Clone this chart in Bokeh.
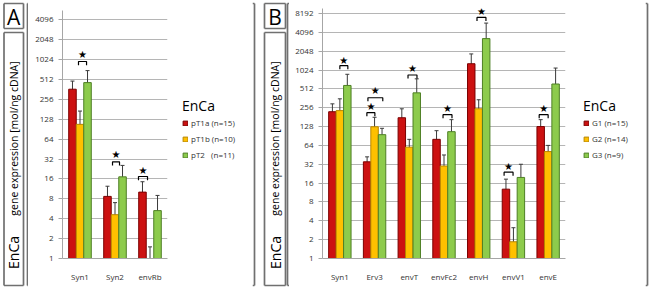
import math
from bokeh.plotting import figure
from bokeh.layouts import row, column
from bokeh.models import (ColumnDataSource, FactorRange, Range1d, FixedTicker, Whisker,
                          TeeHead, Legend, LegendItem)
from bokeh.transform import dodge
from bokeh.embed import file_html
from bokeh.resources import INLINE
from bokeh.core.properties import value

# ---------------- data ----------------
y_ticks_a = [1, 2, 4, 8, 16, 32, 64, 128, 256, 512, 1024, 2048, 4096]
y_labels_a = ["1", "2", "4", "8", "16", "32", "64", "128", "256", "512", "1024", "2048", "4096"]
y_ticks_b = [1, 2, 4, 8, 16, 32, 64, 128, 256, 512, 1024, 2048, 4096, 8192]
y_labels_b = ["1", "2", "4", "8", "16", "32", "64", "128", "256", "512", "1024", "2048", "4096", "8192"]

# Panel A
cats_a = ["Syn1", "Syn2", "envRb"]
names_a = ["pT1a (n=15)", "pT1b (n=10)", "pT2   (n=11)"]
pT1a = [364, 8.7, 10.1]
pT1a_lo = [250, 6.0, 6.0]
pT1a_hi = [483, 12.4, 14.5]
pT1b = [107, 4.6, 1.0]
pT1b_lo = [25, 2.2, 1.0]
pT1b_hi = [170, 7.0, 1.5]
pT2 = [458, 17.2, 5.3]
pT2_lo = [223, 9.5, 1.9]
pT2_hi = [696, 25.6, 9.0]
# significance marks: category, bracket from/to (bar index units), bracket level, star level
sig_a = [("Syn1", 0.8, 1.87, 955, 1240),
         ("Syn2", 0.67, 1.6, 29, 38),
         ("envRb", -0.53, 0.67, 17.4, 21.4)]

# Panel B
cats_b = ["Syn1", "Erv3", "envT", "envFc2", "envH", "envV1", "envE"]
names_b = ["G1 (n=15)", "G2 (n=14)", "G3 (n=9)"]
G1 = [221, 35, 177, 80, 1290, 12.8, 128]
G1_lo = [155, 28, 115, 54, 790, 8.8, 98]
G1_hi = [295, 42, 246, 110, 1850, 18.5, 165]
G2 = [230, 127, 60, 30, 246, 1.85, 51]
G2_lo = [115, 80, 42, 20, 175, 1.0, 40]
G2_hi = [355, 180, 80, 45, 343, 3.1, 64]
G3 = [580, 95, 442, 106, 3250, 19.7, 612]
G3_lo = [343, 85, 177, 54, 875, 5.3, 100]
G3_hi = [875, 120, 740, 165, 5750, 32, 1100]
sig_b = [("Syn1", 1.0, 2.07, 1200, 1440),
         ("Erv3", 0.11, 2.1, 369, 475),
         ("Erv3", -0.03, 1.04, 213, 265),
         ("envT", 0.83, 2.03, 853, 1100),
         ("envFc2", 0.87, 2.07, 198, 246),
         ("envH", 0.77, 1.97, 7080, 8800),
         ("envV1", -0.25, 0.95, 23.9, 29.7),
         ("envE", -0.2, 1.0, 198, 246)]

# ---------------- style ----------------
FILLS = ["#CC1111", "#FFC000", "#8DCB4C"]
EDGES = ["#7A0000", "#B88600", "#4E7F25"]
FONT = "Open Sans"
BOXC = "#707070"
BOXW = 1.7


def chart(width, height, borders, cats, vals, los, his, sig, yt, yl, y_end):
    left, right, top, bottom = borders
    p = figure(width=width, height=height, x_range=FactorRange(factors=cats),
               y_axis_type="log", y_range=Range1d(1, y_end),
               output_backend="svg", toolbar_location=None,
               min_border_left=left, min_border_right=right,
               min_border_top=top, min_border_bottom=bottom)
    p.outline_line_color = None
    p.background_fill_color = "white"
    p.border_fill_color = "white"
    p.xgrid.grid_line_color = None
    tick = FixedTicker(ticks=yt)
    p.yaxis.ticker = tick
    p.ygrid.ticker = tick
    p.yaxis.major_label_overrides = dict(zip(yt, yl))
    p.ygrid.grid_line_color = "#B5B5B5"
    p.ygrid.grid_line_width = 1
    for ax in (p.xaxis, p.yaxis):
        ax.axis_line_color = "#A6A6A6"
        ax.major_tick_line_color = "#A6A6A6"
        ax.minor_tick_line_color = None
        ax.major_label_text_font = FONT
        ax.major_label_text_font_size = "8px"
        ax.major_label_text_color = "#333333"
    p.yaxis.major_tick_out = 4
    p.yaxis.major_tick_in = 0
    p.yaxis.major_label_standoff = 5
    p.xaxis.major_tick_line_color = None
    p.xaxis.major_label_standoff = 6

    bw = 0.215
    offs = [-bw, 0.0, bw]
    data = dict(cat=cats)
    for i in range(3):
        data[f"v{i}"] = vals[i]
        data[f"lo{i}"] = los[i]
        data[f"hi{i}"] = his[i]
    src = ColumnDataSource(data)
    for i in range(3):
        p.vbar(x=dodge("cat", offs[i], range=p.x_range), top=f"v{i}", bottom=1,
               width=bw, source=src, fill_color=FILLS[i], line_color=EDGES[i],
               line_width=1)
        w = Whisker(source=src, base=dodge("cat", offs[i], range=p.x_range),
                    upper=f"hi{i}", lower=f"lo{i}", line_color="#3A3A3A", line_width=1,
                    upper_head=TeeHead(size=4, line_color="#3A3A3A", line_width=1),
                    lower_head=TeeHead(size=4, line_color="#3A3A3A", line_width=1))
        p.add_layout(w)

    bxs, bys, sx, sy = [], [], [], []
    for cat, a, b, lvl, star in sig:
        c = cats.index(cat) + 0.5
        x0 = c + (a - 1) * bw
        x1 = c + (b - 1) * bw
        drop = lvl * 0.88
        bxs.append([x0, x0, x1, x1])
        bys.append([drop, lvl, lvl, drop])
        sx.append((x0 + x1) / 2)
        sy.append(star)
    p.multi_line(xs=bxs, ys=bys, line_color="black", line_width=1.2)
    p.text(x=sx, y=sy, text=["\u2605"] * len(sx), text_align="center",
           text_baseline="middle", text_font=value("DejaVu Sans"),
           text_font_size="10px", text_color="black")
    return p


def canvas(w, h):
    f = figure(width=w, height=h, x_range=Range1d(0, w), y_range=Range1d(h, 0),
               min_border=0, toolbar_location=None, output_backend="svg",
               x_axis_location=None, y_axis_location=None)
    f.outline_line_color = None
    f.grid.grid_line_color = None
    f.background_fill_color = "white"
    f.border_fill_color = "white"
    return f


def legend_box(w, h, names, loc):
    f = canvas(w, h)
    items = []
    for i in range(3):
        # legend keys only: a single off-canvas rect per series
        r = f.rect(x=[-100], y=[-100], width=1, height=1, fill_color=FILLS[i],
                   line_color=EDGES[i], line_width=1)
        items.append(LegendItem(label=names[i], renderers=[r]))
    leg = Legend(items=items, location=loc, orientation="vertical",
                 title="EnCa", title_text_font=FONT, title_text_font_size="14px",
                 title_text_font_style="normal", title_text_color="black",
                 title_standoff=2,
                 glyph_width=6, glyph_height=6, label_height=10, label_width=10,
                 label_standoff=3, spacing=5, padding=0, margin=0,
                 border_line_color=None, background_fill_alpha=0,
                 label_text_font=FONT, label_text_font_size="8px",
                 label_text_color="#333333")
    f.add_layout(leg)
    return f


def lines(f, segs):
    f.segment(x0=[s[0] for s in segs], y0=[s[1] for s in segs],
              x1=[s[2] for s in segs], y1=[s[3] for s in segs],
              line_color=BOXC, line_width=BOXW)


def side_column(w, letter, bx0, bx1, frame_x):
    f = canvas(w, 290)
    lines(f, [(bx0, 3, bx1, 3), (bx0, 28, bx1, 28), (bx0, 3, bx0, 28), (bx1, 3, bx1, 28),
              (bx0, 32, bx1, 32), (bx0, 285, bx1, 285), (bx0, 32, bx0, 285), (bx1, 32, bx1, 285),
              (frame_x, 3, frame_x, 285), (frame_x, 3, w, 3), (frame_x, 285, w, 285)])
    cx = (bx0 + bx1) / 2
    f.text(x=[cx], y=[16], text=[letter], text_align="center", text_baseline="middle",
           text_font=value(FONT), text_font_size="21px", text_color="black")
    f.text(x=[cx, cx], y=[138, 252], text=["gene expression [mol/ng cDNA]", "EnCa"],
           angle=math.pi / 2, text_align="center", text_baseline="middle",
           text_font=value(FONT), text_font_size=["10.5px", "14px"], text_color="black")
    return f


def hstrip(w, h, y):
    f = canvas(w, h)
    lines(f, [(0, y, w, y)])
    return f


def right_strip(w, x):
    f = canvas(w, 290)
    lines(f, [(x, 3, x, 285), (0, 3, x, 3), (0, 285, x, 285)])
    return f


# ---------------- panel A (x 0..258) ----------------
LA = side_column(28, "A", 3.5, 23, 27)
chartA = chart(144, 278, (34, 5, 4, 21), cats_a,
               [pT1a, pT1b, pT2], [pT1a_lo, pT1b_lo, pT2_lo], [pT1a_hi, pT1b_hi, pT2_hi],
               sig_a, y_ticks_a, y_labels_a, 2 ** (253 / 20.3))
legA = legend_box(80, 278, names_a, (10, 98))
TA = hstrip(224, 6, 3)
BA = hstrip(224, 6, 1)
RA = right_strip(6, 2)

# ---------------- panel B (x 258..650) ----------------
LB = side_column(31, "B", 6, 27, 29)
chartB = chart(281, 278, (33, 5, 2, 24), cats_b,
               [G1, G2, G3], [G1_lo, G2_lo, G3_lo], [G1_hi, G2_hi, G3_hi],
               sig_b, y_ticks_b, y_labels_b, 2 ** (252 / 19.0))
legB = legend_box(75, 278, names_b, (13, 98))
TB = hstrip(356, 6, 3)
BB = hstrip(356, 6, 1)
RB = right_strip(5, 2)

layout = row(LA, column(TA, row(chartA, legA, spacing=0), BA, spacing=0), RA,
             LB, column(TB, row(chartB, legB, spacing=0), BB, spacing=0), RB, spacing=0)
open("out.html", "w").write(file_html(layout, INLINE))
